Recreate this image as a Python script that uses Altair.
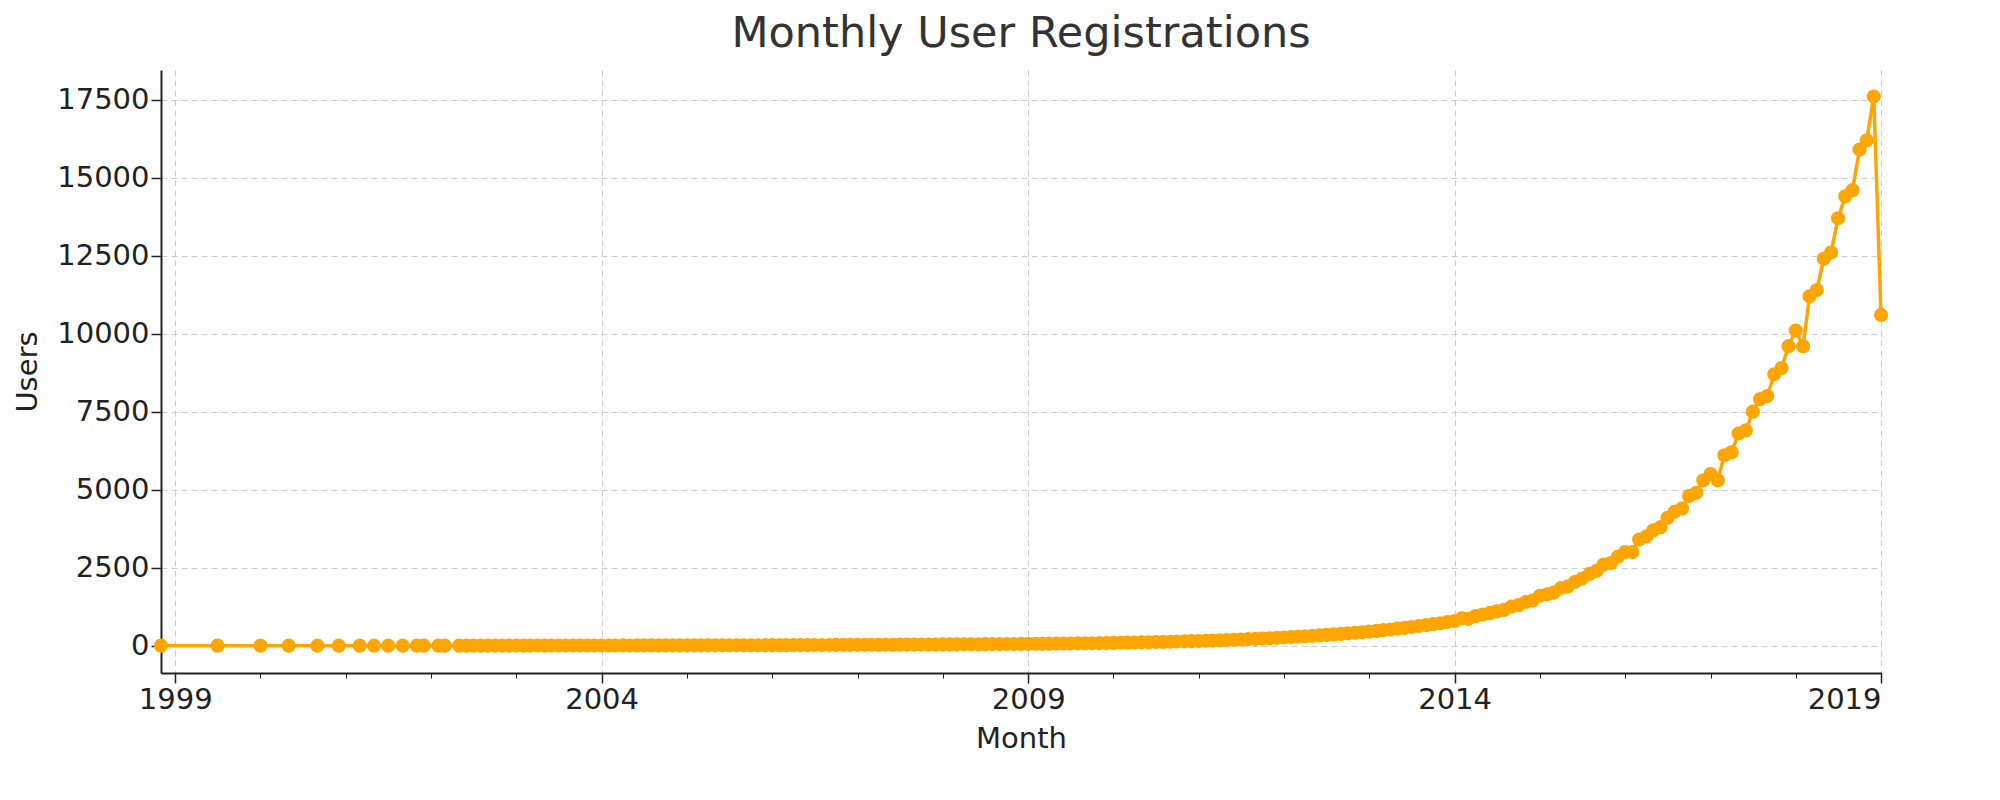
import pandas as pd
import altair as alt

# sparse early months (only months with registrations)
early_months = ["1998-11", "1999-07", "2000-01", "2000-05", "2000-09", "2000-12",
                "2001-03", "2001-05", "2001-07", "2001-09", "2001-11", "2001-12",
                "2002-02", "2002-03"]
early_users = [1, 1, 1, 1, 1, 1, 1, 1, 1, 2, 1, 2, 1, 2]

# monthly values from 2002-05 onward, one list per year
users_by_year = {
    2002: [2, 2, 3, 2, 3, 3, 3, 4],  # May-Dec
    2003: [3, 4, 4, 5, 4, 5, 5, 6, 5, 6, 6, 7],
    2004: [6, 7, 7, 8, 7, 8, 9, 8, 9, 10, 9, 10],
    2005: [10, 11, 11, 12, 12, 13, 12, 14, 14, 15, 15, 16],
    2006: [16, 17, 18, 18, 19, 20, 21, 21, 22, 24, 24, 26],
    2007: [27, 28, 29, 30, 32, 32, 34, 35, 36, 38, 38, 40],
    2008: [41, 42, 44, 45, 46, 48, 50, 51, 52, 54, 56, 58],
    2009: [60, 62, 64, 66, 68, 70, 72, 75, 78, 80, 83, 86],
    2010: [90, 94, 98, 102, 108, 112, 118, 122, 128, 134, 140, 146],
    2011: [152, 160, 168, 175, 184, 192, 200, 210, 220, 230, 240, 252],
    2012: [262, 275, 288, 300, 315, 330, 345, 362, 378, 395, 415, 432],
    2013: [452, 475, 498, 520, 545, 572, 600, 630, 660, 690, 720, 760],
    2014: [790, 880, 860, 950, 1000, 1050, 1100, 1150, 1250, 1300, 1400, 1450],
    2015: [1600, 1650, 1700, 1850, 1900, 2050, 2150, 2300, 2400, 2600, 2650, 2850],
    2016: [3000, 3000, 3400, 3500, 3700, 3800, 4100, 4300, 4400, 4800, 4900, 5300],
    2017: [5500, 5300, 6100, 6200, 6800, 6900, 7500, 7900, 8000, 8700, 8900, 9600],
    2018: [10100, 9600, 11200, 11400, 12400, 12600, 13700, 14400, 14600, 15900, 16200, 17600],
    2019: [10600],
}

months = list(early_months)
users = list(early_users)
for year, vals in users_by_year.items():
    start = 5 if year == 2002 else 1
    for i, v in enumerate(vals):
        months.append(f"{year}-{start + i:02d}")
        users.append(v)

df = pd.DataFrame({"month": pd.to_datetime(months), "users": users})

x_scale = alt.Scale(domain=["1998-11-01", "2019-01-01"])
major_years = [alt.DateTime(year=y, month=1, date=1) for y in [1999, 2004, 2009, 2014, 2019]]
minor_years = [alt.DateTime(year=y, month=1, date=1) for y in range(1999, 2020)]

axis_style = dict(grid=True, gridDash=[6, 4], gridColor="#cccccc", tickSize=10, tickWidth=1.5,
                  labelFontSize=29, titleFontSize=29, titleFontWeight="normal",
                  domainColor="#222", tickColor="#222", labelColor="#222", titleColor="#222",
                  labelFont="DejaVu Sans", titleFont="DejaVu Sans", domainWidth=2)

line = (
    alt.Chart(df)
    .mark_line(color="#FFA500", strokeWidth=3.5,
               point=alt.OverlayMarkDef(color="#FFA500", size=200, opacity=1))
    .encode(
        alt.X("month:T", scale=x_scale, title="Month",
              axis=alt.Axis(values=major_years, format="%Y", orient="bottom",
                            titlePadding=10, **axis_style)),
        alt.Y("users:Q", title="Users", scale=alt.Scale(domain=[-875, 18450], nice=False, zero=False),
              axis=alt.Axis(values=list(range(0, 17501, 2500)), format="d",
                            titlePadding=14, **axis_style)),
    )
)

minor = (
    alt.Chart(df)
    .mark_point(opacity=0)
    .encode(
        alt.X("month:T", scale=x_scale, title=None,
              axis=alt.Axis(values=minor_years, labels=False, grid=False, tickSize=5,
                            orient="bottom", tickColor="#222", domain=False)),
    )
)

chart = (
    alt.layer(line, minor)
    .resolve_axis(x="independent")
    .properties(
        width=1720, height=603,
        title=alt.TitleParams("Monthly User Registrations", fontSize=43, font="DejaVu Sans",
                              fontWeight="normal", color="#333", offset=14),
    )
    .configure_view(stroke=None)
)

chart.save("out.html", embed_options={"renderer": "svg", "actions": False})
